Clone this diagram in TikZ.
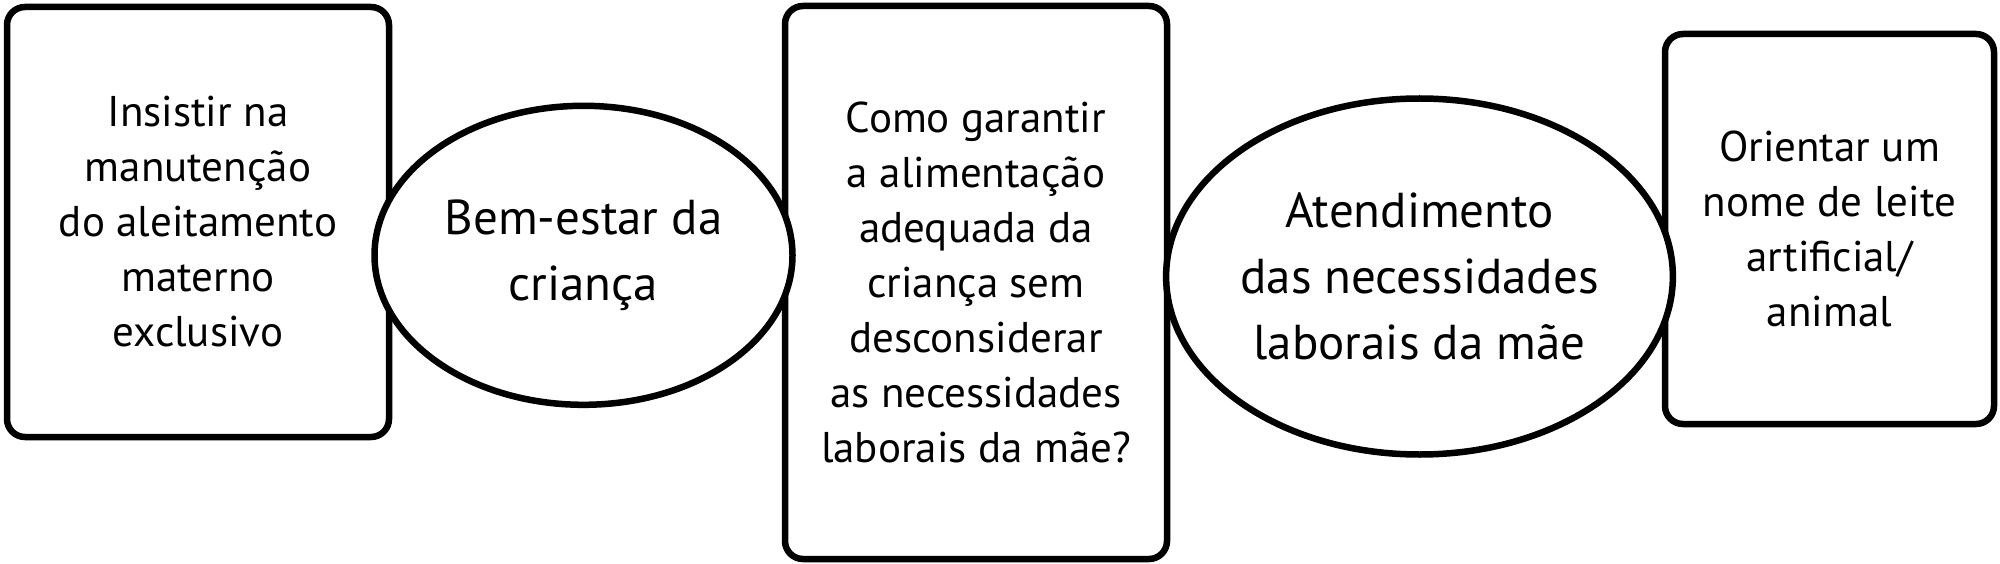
\documentclass[tikz,border=0pt]{standalone}
\usepackage{fontspec}
\setmainfont{PT Sans}
\usetikzlibrary{shapes.geometric}
\begin{document}
\begin{tikzpicture}[x=1pt,y=-1pt,
  boxstyle/.style={draw=black, line width=6.5pt, rounded corners=18pt, fill=white,
    inner sep=0pt, align=center, font=\fontsize{43}{55}\selectfont},
  ovalstyle/.style={draw=black, line width=6.5pt, ellipse, fill=white,
    inner sep=0pt, align=center, font=\fontsize{49}{66}\selectfont}]
\useasboundingbox (0,0) rectangle (2000,564);
\node[boxstyle, minimum width=382pt, minimum height=430pt] (b1) at (198,222)
  {Insistir na\\manutenção\\do aleitamento\\materno\\exclusivo};
\node[boxstyle, minimum width=382pt, minimum height=553pt] (b2) at (976,282.5)
  {Como garantir\\a alimentação\\adequada da\\criança sem\\desconsiderar\\as necessidades\\laborais da mãe?};
\node[boxstyle, minimum width=329pt, minimum height=390pt] (b3) at (1829.5,229)
  {Orientar um\\nome de leite\\artificial/\\animal};
\node[ovalstyle, minimum width=418pt, minimum height=299pt] (e1) at (583.5,255.3)
  {Bem-estar da\\criança};
\node[ovalstyle, minimum width=502pt, minimum height=356pt] (e2) at (1419.5,276.5)
  {Atendimento\\das necessidades\\laborais da mãe};
\end{tikzpicture}
\end{document}
